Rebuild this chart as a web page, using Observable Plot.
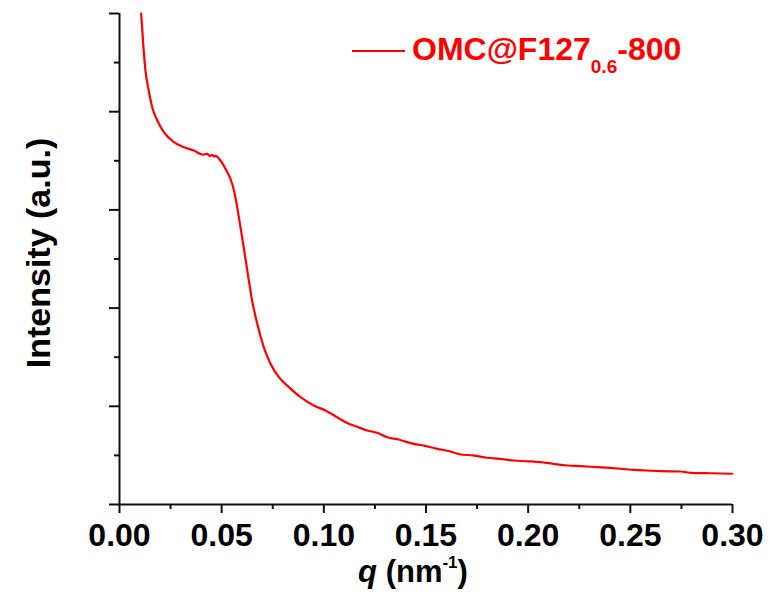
<!DOCTYPE html>
<html>
<head>
<meta charset="utf-8">
<script src="https://cdn.jsdelivr.net/npm/d3@7"></script>
<script src="https://cdn.jsdelivr.net/npm/@observablehq/plot@0.6"></script>
<style>
  html, body { margin: 0; padding: 0; background: #fff; }
  #chart { position: relative; width: 772px; height: 596px; }
</style>
</head>
<body>
<div id="chart"></div>
<script>
// q (nm^-1)
const qValues = [
  0.0106, 0.0116, 0.0127, 0.0143, 0.0160, 0.0185, 0.0217, 0.0266, 0.0315, 0.0364,
  0.0405, 0.0430, 0.0440, 0.0454, 0.0462, 0.0470, 0.0494, 0.0519, 0.0543, 0.0560,
  0.0576, 0.0590, 0.0609, 0.0633, 0.0649, 0.0674, 0.0706, 0.0739, 0.0780, 0.0829,
  0.0886, 0.0951, 0.1008, 0.1065, 0.1122, 0.1160, 0.1212, 0.1260,
  0.1310, 0.1370, 0.1400, 0.1440, 0.1500, 0.1555, 0.1610, 0.1669, 0.1730, 0.1799,
  0.1860, 0.1930, 0.2000, 0.2060, 0.2120, 0.2191, 0.2260, 0.2338, 0.2400, 0.2452,
  0.2520, 0.2582, 0.2650, 0.2745, 0.2800, 0.2827, 0.2900, 0.2999
];
// Intensity (a.u.)
const intensityValues = [
  5.000, 4.691, 4.420, 4.216, 4.046, 3.910, 3.791, 3.690, 3.639, 3.605,
  3.564, 3.570, 3.550, 3.560, 3.545, 3.550, 3.503, 3.418, 3.316, 3.200,
  3.028, 2.850, 2.604, 2.281, 2.077, 1.840, 1.602, 1.433, 1.297, 1.195,
  1.093, 1.008, 0.957, 0.889, 0.822, 0.795, 0.754, 0.730,
  0.685, 0.660, 0.640, 0.618, 0.595, 0.567, 0.545, 0.509, 0.500, 0.476,
  0.465, 0.448, 0.440, 0.431, 0.415, 0.397, 0.390, 0.380, 0.372, 0.364,
  0.352, 0.346, 0.340, 0.336, 0.322, 0.319, 0.318, 0.313
];
const xMajorTicks = [0, 0.05, 0.10, 0.15, 0.20, 0.25, 0.30];
const xMinorTicks = [0.025, 0.075, 0.125, 0.175, 0.225, 0.275];
const yMajorTicks = [0, 1, 2, 3, 4, 5];
const yMinorTicks = [0.5, 1.5, 2.5, 3.5, 4.5];
const seriesName = "OMC@F127";
const seriesSub = "0.6";
const seriesSuffix = "-800";

const data = qValues.map((q, i) => ({q, v: intensityValues[i]}));

const font = "'Liberation Sans', Arial, sans-serif";
const axisColor = "#111";

const plot = Plot.plot({
  width: 772,
  height: 596,
  marginLeft: 119,
  marginRight: 40,
  marginTop: 13,
  marginBottom: 92,
  style: {fontFamily: font, fontWeight: "bold", fontSize: "32px", color: "#000", background: "#fff"},
  x: {domain: [0, 0.30]},
  y: {domain: [0, 5]},
  marks: [
    Plot.axisX({ticks: xMinorTicks, tickSize: 5, tickFormat: () => "", strokeWidth: 2, stroke: axisColor, strokeOpacity: 1, label: null}),
    Plot.axisX({ticks: xMajorTicks, tickSize: 9, tickPadding: 10, tickFormat: d3.format(".2f"), strokeWidth: 2, stroke: axisColor, strokeOpacity: 1, label: null, fontSize: 32, fontWeight: "bold", fill: "#000"}),
    Plot.axisY({ticks: yMinorTicks, tickSize: 5, tickFormat: () => "", strokeWidth: 2, stroke: axisColor, strokeOpacity: 1, label: null}),
    Plot.axisY({ticks: yMajorTicks, tickSize: 10, tickFormat: () => "", strokeWidth: 2, stroke: axisColor, strokeOpacity: 1, label: null}),
    Plot.ruleY([0], {stroke: axisColor, strokeWidth: 2}),
    Plot.ruleX([0], {stroke: axisColor, strokeWidth: 2}),
    Plot.line(data, {x: "q", y: "v", stroke: "#ff0000", strokeWidth: 2.2, curve: "monotone-x"})
  ]
});

document.getElementById("chart").appendChild(plot);

const svg = d3.select(plot);

// x-axis title: q (nm^-1)
const xt = svg.append("text")
  .attr("x", 413).attr("y", 582)
  .attr("text-anchor", "middle")
  .style("font-family", font).style("font-weight", "bold").style("font-size", "31px").style("fill", "#000");
xt.append("tspan").style("font-style", "italic").text("q");
xt.append("tspan").text(" (nm");
xt.append("tspan").attr("dy", -14).style("font-size", "17px").text("-1");
xt.append("tspan").attr("dy", 14).text(")");

// y-axis title
svg.append("text")
  .attr("transform", "translate(50,253) rotate(-90)")
  .attr("text-anchor", "middle")
  .style("font-family", font).style("font-weight", "bold").style("font-size", "34px").style("fill", "#000")
  .text("Intensity (a.u.)");

// legend
svg.append("line")
  .attr("x1", 352).attr("x2", 405).attr("y1", 51).attr("y2", 51)
  .attr("stroke", "#ff0000").attr("stroke-width", 2);
const lt = svg.append("text")
  .attr("x", 412).attr("y", 60)
  .attr("text-anchor", "start")
  .style("font-family", font).style("font-weight", "bold").style("font-size", "32px").style("fill", "#ff0000");
lt.append("tspan").text(seriesName);
lt.append("tspan").attr("dy", 13).style("font-size", "19px").text(seriesSub);
lt.append("tspan").attr("dy", -13).text(seriesSuffix);
</script>
</body>
</html>
